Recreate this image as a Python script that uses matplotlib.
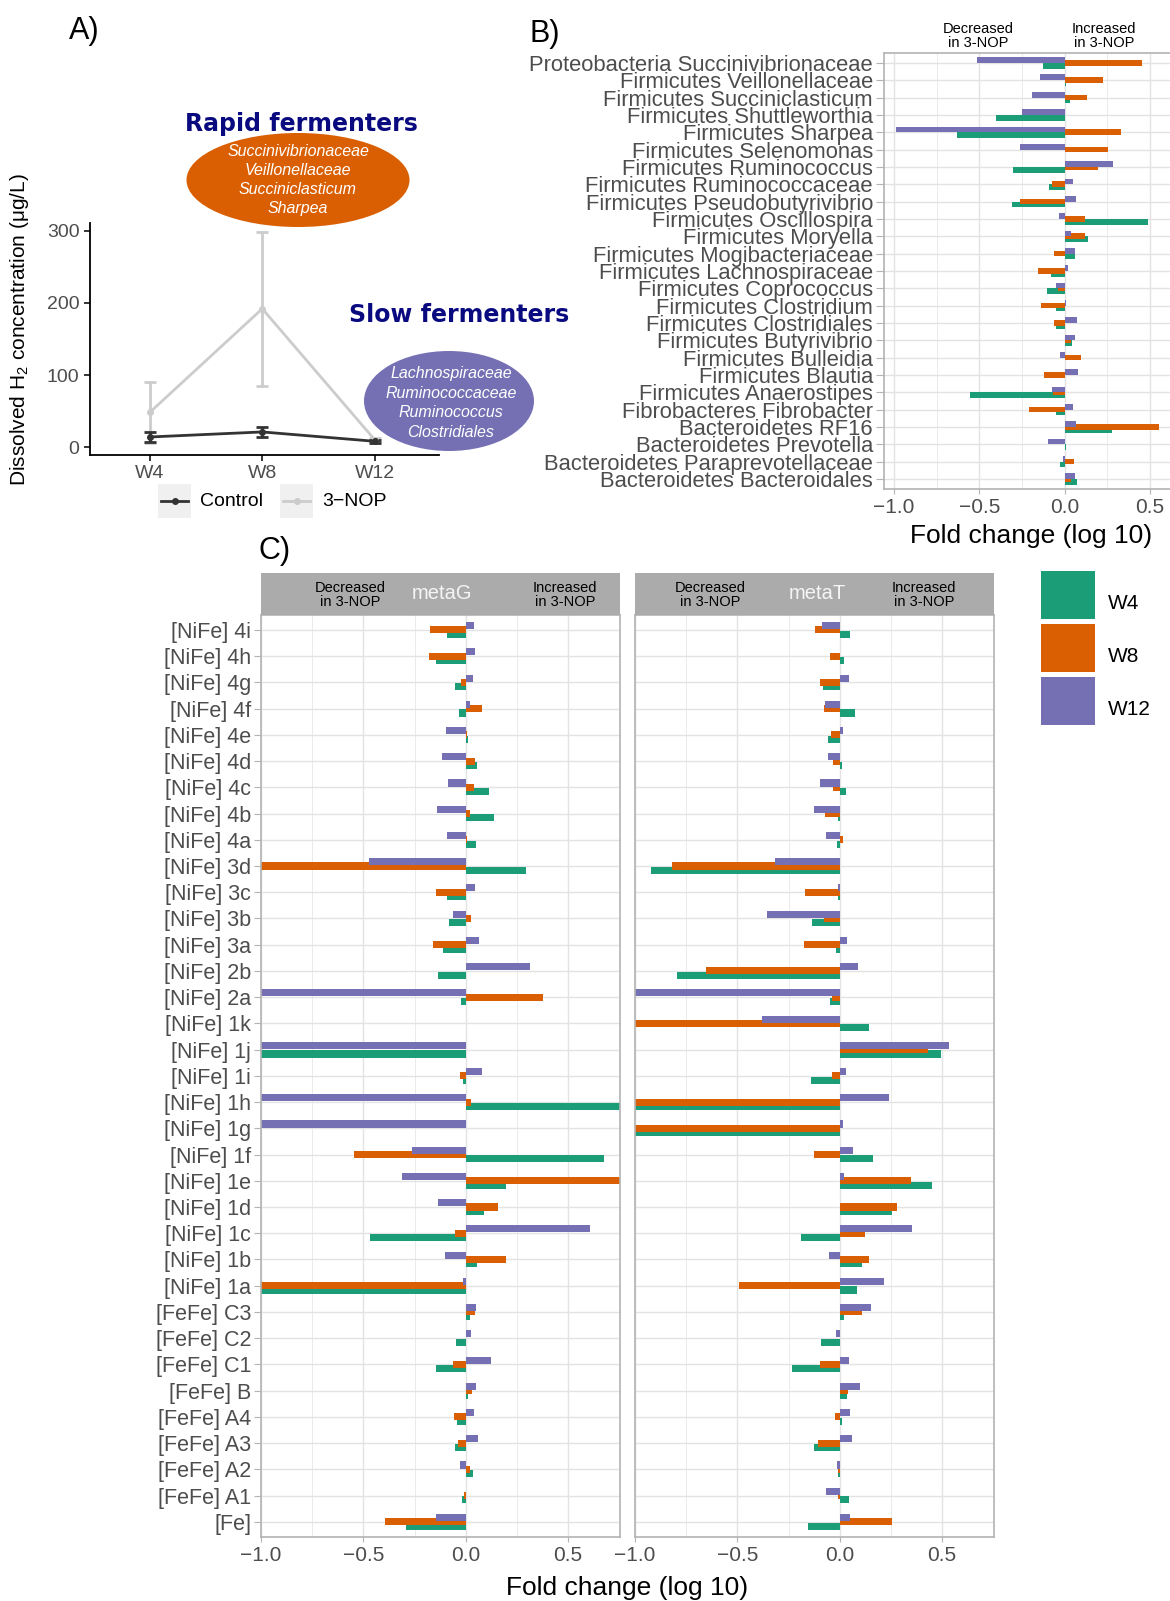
import numpy as np
import matplotlib
matplotlib.use("Agg")
import matplotlib.pyplot as plt
from matplotlib.patches import Ellipse, Rectangle

plt.rcParams['font.family'] = ['Liberation Sans', 'DejaVu Sans']
plt.rcParams['mathtext.fontset'] = 'custom'
plt.rcParams['mathtext.rm'] = 'Liberation Sans'

# ---------------- data ----------------
weeks = ["W4", "W8", "W12"]
h2_control = [14, 21, 8]
h2_control_err = [7, 7, 2]
h2_nop = [48, 192, 10]
h2_nop_err = [42, 107, 3]

rapid_taxa = ["Succinivibrionaceae", "Veillonellaceae", "Succiniclasticum", "Sharpea"]
slow_taxa = ["Lachnospiraceae", "Ruminococcaceae", "Ruminococcus", "Clostridiales"]

bact_labels = ["Proteobacteria Succinivibrionaceae", "Firmicutes Veillonellaceae",
               "Firmicutes Succiniclasticum", "Firmicutes Shuttleworthia",
               "Firmicutes Sharpea", "Firmicutes Selenomonas", "Firmicutes Ruminococcus",
               "Firmicutes Ruminococcaceae", "Firmicutes Pseudobutyrivibrio",
               "Firmicutes Oscillospira", "Firmicutes Moryella",
               "Firmicutes Mogibacteriaceae", "Firmicutes Lachnospiraceae",
               "Firmicutes Coprococcus", "Firmicutes Clostridium",
               "Firmicutes Clostridiales", "Firmicutes Butyrivibrio",
               "Firmicutes Bulleidia", "Firmicutes Blautia", "Firmicutes Anaerostipes",
               "Fibrobacteres Fibrobacter", "Bacteroidetes RF16",
               "Bacteroidetes Prevotella", "Bacteroidetes Paraprevotellaceae",
               "Bacteroidetes Bacteroidales"]
bact_w4 = [-0.124, 0.007, 0.03, -0.40, -0.63, 0.003, -0.30, -0.09, -0.31, 0.487, 0.14,
           0.06, -0.08, -0.105, -0.05, -0.05, 0.045, 0.0, 0.0, -0.555, -0.05, 0.277,
           0.007, -0.027, 0.075]
bact_w8 = [0.455, 0.224, 0.13, 0.0, 0.33, 0.255, 0.195, -0.073, -0.26, 0.12, 0.12,
           -0.06, -0.153, -0.037, -0.136, -0.06, 0.04, 0.095, -0.12, -0.068, -0.207,
           0.552, 0.0, 0.056, 0.04]
bact_w12 = [-0.51, -0.146, -0.19, -0.25, -0.985, -0.26, 0.285, 0.05, 0.07, -0.03, 0.04,
            0.06, 0.02, -0.05, 0.007, 0.075, 0.06, -0.025, 0.078, -0.075, 0.05, 0.065,
            -0.097, -0.007, 0.063]

hyd_labels = ["[NiFe] 4i", "[NiFe] 4h", "[NiFe] 4g", "[NiFe] 4f", "[NiFe] 4e",
              "[NiFe] 4d", "[NiFe] 4c", "[NiFe] 4b", "[NiFe] 4a", "[NiFe] 3d",
              "[NiFe] 3c", "[NiFe] 3b", "[NiFe] 3a", "[NiFe] 2b", "[NiFe] 2a",
              "[NiFe] 1k", "[NiFe] 1j", "[NiFe] 1i", "[NiFe] 1h", "[NiFe] 1g",
              "[NiFe] 1f", "[NiFe] 1e", "[NiFe] 1d", "[NiFe] 1c", "[NiFe] 1b",
              "[NiFe] 1a", "[FeFe] C3", "[FeFe] C2", "[FeFe] C1", "[FeFe] B",
              "[FeFe] A4", "[FeFe] A3", "[FeFe] A2", "[FeFe] A1", "[Fe]"]
metaG_w4 = [-0.093, -0.143, -0.05, -0.034, 0.013, 0.054, 0.114, 0.137, 0.05, 0.295,
            -0.09, -0.081, -0.109, -0.137, -0.023, 0.0, -1.0, -0.013, 0.8, 0.0, 0.678,
            0.197, 0.09, -0.467, 0.054, -1.0, 0.021, -0.047, -0.145, 0.013, -0.044,
            -0.05, 0.036, -0.016, -0.293]
metaG_w8 = [-0.174, -0.18, -0.023, 0.08, 0.007, 0.047, 0.042, 0.023, 0.008, -1.0,
            -0.147, 0.028, -0.158, 0.0, 0.376, 0.0, 0.0, -0.028, 0.028, 0.0, -0.546,
            0.8, 0.158, -0.05, 0.199, -1.0, 0.044, 0.0, -0.064, 0.033, -0.055, -0.037,
            0.02, -0.01, -0.396]
metaG_w12 = [0.039, 0.046, 0.036, 0.02, -0.098, -0.116, -0.085, -0.138, -0.09, -0.47,
             0.046, -0.064, 0.064, 0.314, -1.0, 0.0, -1.0, 0.08, -1.0, -1.0, -0.262,
             -0.311, -0.137, 0.607, -0.103, -0.011, 0.052, 0.026, 0.125, 0.049, 0.042,
             0.059, -0.029, 0.0, -0.143]
metaT_w4 = [0.049, 0.023, -0.081, 0.075, -0.059, 0.011, 0.031, -0.008, -0.013, -0.923,
            -0.007, -0.135, -0.018, -0.796, -0.049, 0.145, 0.493, -0.14, -1.0, -1.0,
            0.164, 0.45, 0.254, -0.19, 0.107, 0.085, 0.023, -0.09, -0.231, 0.036, 0.013,
            -0.125, -0.01, 0.044, -0.155]
metaT_w8 = [-0.119, -0.047, -0.096, -0.077, -0.044, -0.033, -0.034, -0.07, 0.016,
            -0.819, -0.168, -0.077, -0.173, -0.655, -0.036, -1.0, 0.433, -0.039, -1.0,
            -1.0, -0.127, 0.35, 0.278, 0.122, 0.145, -0.492, 0.111, 0.0, -0.094, 0.042,
            -0.023, -0.106, -0.008, -0.008, 0.254]
metaT_w12 = [-0.088, 0.003, 0.046, -0.072, 0.016, -0.055, -0.098, -0.124, -0.068,
             -0.316, -0.007, -0.357, 0.034, 0.091, -1.0, -0.378, 0.534, 0.031, 0.241,
             0.015, 0.064, 0.02, 0.0, 0.352, -0.052, 0.215, 0.153, -0.02, 0.047, 0.101,
             0.05, 0.06, -0.015, -0.065, 0.05]

fold_ticks = [-1.0, -0.5, 0.0, 0.5]
fold_minor = [-0.75, -0.25, 0.25]

# ---------------- layout helpers ----------------
W, H = 1170, 1601
fig = plt.figure(figsize=(W / 100, H / 100), dpi=100)

def px_axes(l, t, r, b):
    return fig.add_axes([l / W, 1 - b / H, (r - l) / W, (b - t) / H])

GREEN, ORANGE, PURPLE = '#1B9E77', '#D95F02', '#7570B3'
GRAY30 = '#4D4D4D'
BORDER = '#B3B3B3'
GRIDC = '#E3E3E3'
NAVY = '#0A0A80'

def fmt(v):
    return f"{v:.1f}".replace('-', '\u2212')

def fold_panel(ax, w4, w8, w12, height, off, xlim, labels=None, fs=15, tick_len=5):
    n = len(w4)
    y = np.arange(n)[::-1]
    for vals, o, col in ((w4, -off, GREEN), (w8, 0.0, ORANGE), (w12, off, PURPLE)):
        ax.barh(y + o, vals, height=height, color=col, lw=0, zorder=2)
    ax.set_xlim(*xlim)
    ax.set_ylim(-0.58, n - 0.43)
    ax.set_xticks(fold_ticks)
    ax.set_xticklabels([fmt(v) for v in fold_ticks], fontsize=15, color=GRAY30)
    ax.set_xticks(fold_minor, minor=True)
    ax.set_yticks(y)
    if labels is not None:
        ax.set_yticklabels(labels, fontsize=fs, color=GRAY30)
        ax.tick_params(axis='y', length=tick_len, width=0.8, color=BORDER, pad=2)
    else:
        ax.set_yticklabels([])
        ax.tick_params(axis='y', length=0)
    ax.tick_params(axis='x', which='major', length=3.5, width=0.8, color=BORDER, pad=3)
    ax.tick_params(axis='x', which='minor', length=0)
    ax.grid(which='major', color=GRIDC, lw=1.0, zorder=0)
    ax.grid(which='minor', axis='x', color=GRIDC, lw=0.5, zorder=0)
    ax.set_axisbelow(True)
    for s in ax.spines.values():
        s.set_color(BORDER)
        s.set_linewidth(1.2)

# ---------------- panel A ----------------
axA = px_axes(90, 223, 439, 455)
xw = np.arange(1, len(weeks) + 1)
axA.errorbar(xw, h2_nop, yerr=h2_nop_err, color='#CCCCCC', lw=2, marker='o', ms=4,
             capsize=4, capthick=2, elinewidth=2)
axA.errorbar(xw, h2_control, yerr=h2_control_err, color='#333333', lw=2, marker='o',
             ms=4, capsize=4, capthick=2, elinewidth=2)
axA.set_xlim(0.47, 3.57)
axA.set_ylim(-11, 311)
axA.set_xticks(xw)
axA.set_xticklabels(weeks, fontsize=14, color=GRAY30)
axA.set_yticks([0, 100, 200, 300])
axA.set_yticklabels(['0', '100', '200', '300'], fontsize=14, color=GRAY30)
axA.tick_params(length=4, width=1.1, color='black')
for s in ('top', 'right'):
    axA.spines[s].set_visible(False)
for s in ('left', 'bottom'):
    axA.spines[s].set_linewidth(1.3)
axA.set_facecolor('none')

# ---------------- panel B ----------------
axB = px_axes(884, 53, 1172, 489)
fold_panel(axB, bact_w4, bact_w8, bact_w12, 0.33, 0.165, (-1.058, 0.63),
           labels=bact_labels, fs=15.8, tick_len=6)

# ---------------- panel C ----------------
axG = px_axes(261, 615, 620, 1537)
fold_panel(axG, metaG_w4, metaG_w8, metaG_w12, 0.27, 0.165, (-1.0, 0.754),
           labels=hyd_labels, fs=15.5, tick_len=5)
axT = px_axes(635, 615, 994, 1537)
fold_panel(axT, metaT_w4, metaT_w8, metaT_w12, 0.27, 0.165, (-1.0, 0.754))

for l, r in ((261, 620), (635, 994)):
    st = px_axes(l, 573, r, 615)
    st.set_facecolor('#ABABAB')
    st.set_xticks([])
    st.set_yticks([])
    for s in st.spines.values():
        s.set_visible(False)

# ---------------- overlay annotations ----------------
ov = fig.add_axes([0, 0, 1, 1])
ov.set_xlim(0, W)
ov.set_ylim(H, 0)
ov.axis('off')

ov.text(69, 31, "A)", fontsize=22, ha='left', va='center')
ov.text(529, 34, "B)", fontsize=22, ha='left', va='center')
ov.text(258, 551, "C)", fontsize=22, ha='left', va='center')

ov.text(20, 330, r"Dissolved H$_\mathregular{2}$ concentration (μg/L)", fontsize=15,
        rotation=90, ha='center', va='center', color='black')

# legend of panel A
for kx, lab, col in ((158, "Control", '#333333'), (280, "3\u2212NOP", '#CCCCCC')):
    ov.add_patch(Rectangle((kx, 484), 33, 34, color='#F0F0F0', lw=0))
    ov.plot([kx + 3, kx + 30], [501, 501], color=col, lw=2)
    ov.plot([kx + 16.5], [501], marker='o', ms=4, color=col)
    ov.text(kx + 42, 501, lab, fontsize=14, ha='left', va='center')

ov.text(301, 124, "Rapid fermenters", fontsize=17, weight='bold', color=NAVY,
        family='DejaVu Sans', ha='center', va='center')
ov.add_patch(Ellipse((298, 180), 223, 94, color=ORANGE, lw=0))
for yy, t in zip((151, 170, 189, 208), rapid_taxa):
    ov.text(298, yy, t, fontsize=11.5, style='italic', color='white',
            ha='center', va='center')

ov.text(459, 315, "Slow fermenters", fontsize=17, weight='bold', color=NAVY,
        family='DejaVu Sans', ha='center', va='center')
ov.add_patch(Ellipse((449, 401), 170, 100, color=PURPLE, lw=0))
for yy, t in zip((373, 393, 412, 432), slow_taxa):
    ov.text(451, yy, t, fontsize=11.5, style='italic', color='white',
            ha='center', va='center')

# "decreased / increased" headers
for x, t in ((978, "Decreased\nin 3-NOP"), (1104, "Increased\nin 3-NOP")):
    ov.text(x, 36, t, fontsize=10.5, ha='center', va='center', linespacing=0.95)
for x, t in ((350, "Decreased\nin 3-NOP"), (565, "Increased\nin 3-NOP"),
             (710, "Decreased\nin 3-NOP"), (924, "Increased\nin 3-NOP")):
    ov.text(x, 595, t, fontsize=10.5, ha='center', va='center', linespacing=0.95)
ov.text(442, 593, "metaG", fontsize=14.5, color='#F5F5F5', ha='center', va='center')
ov.text(817, 593, "metaT", fontsize=14.5, color='#F5F5F5', ha='center', va='center')

ov.text(1031, 536, "Fold change (log 10)", fontsize=19, ha='center', va='center')
ov.text(627, 1588, "Fold change (log 10)", fontsize=19, ha='center', va='center')

# legend of panel C
for yc, lab, col in zip((595, 648, 701), weeks, (GREEN, ORANGE, PURPLE)):
    ov.add_patch(Rectangle((1041, yc - 24), 54, 48, color=col, lw=0))
    ov.text(1108, yc + 8, lab, fontsize=15, ha='left', va='center')

fig.savefig("out.png", dpi=100)
